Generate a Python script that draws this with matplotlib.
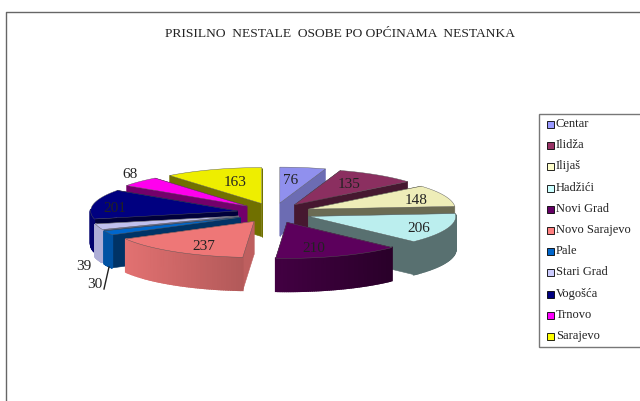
import numpy as np
import matplotlib
matplotlib.use("Agg")
import matplotlib.pyplot as plt
from matplotlib.colors import to_rgb
from matplotlib.patches import Polygon, Rectangle

categories = ["Centar", "Ilidža", "Ilijaš", "Hadžići", "Novi Grad", "Novo Sarajevo",
              "Pale", "Stari Grad", "Vogošća", "Trnovo", "Sarajevo"]
values = [76, 135, 148, 206, 210, 237, 30, 39, 201, 68, 163]
colors = ["#9090EE", "#8B2F60", "#EEEDB8", "#BBEEEE", "#5C005C", "#EE7777",
          "#0066CC", "#C0C0EE", "#000080", "#FF00EE", "#EEEE00"]
legend_colors = ["#9999FF", "#993366", "#FFFFCC", "#CCFFFF", "#660066", "#FF8080",
                 "#0066CC", "#CCCCFF", "#000080", "#FF00FF", "#FFFF00"]
# wall brightness left to right along the outer side of each slice
wall_shades = [(.75, .75), (.5, .5), (.5, .5), (.47, .47), (.72, .45), (.95, .75),
               (.8, .8), (.9, .9), (.85, .85), (.5, .5), (.5, .5)]
# brightness of the two cut faces
cut_shades = [.75, .5, .45, .47, .6, .8, .5, .55, .45, .45, .47]
label_pos = [(291, 181), (349, 185), (416, 201), (419, 229), (314, 249), (204, 247),
             (95, 285), (84, 267), (115, 208), (130, 174), (235, 182)]

# pie geometry in pixels
cx, cy = 274, 213
rx, ry = 147, 36
ex, ey = 37, 10
depth = 33


def shade(color, k):
    return tuple(c * k for c in to_rgb(color))


fig = plt.figure(figsize=(6.4, 4.01), dpi=100)
plt.rcParams["font.family"] = ["Liberation Serif", "DejaVu Serif"]
ax = fig.add_axes([0, 0, 1, 1])
ax.set_xlim(0, 640)
ax.set_ylim(401, 0)
ax.axis("off")

# outer chart frame
ax.plot([5.5, 5.5, 640], [401, 11.5, 11.5], color="#666666", lw=1)
ax.text(340, 34, "PRISILNO  NESTALE  OSOBE PO OPĆINAMA  NESTANKA", ha="center", va="center",
        fontsize=9.7, color="#222222")

edges = np.cumsum([0] + values) / sum(values) * 2 * np.pi
slices = []
for i in range(len(values)):
    a0, a1 = edges[i], edges[i + 1]
    mid = (a0 + a1) / 2
    ax0 = cx + ex * np.sin(mid)
    ay0 = cy - ey * np.cos(mid)
    slices.append((ay0, i, a0, a1, ax0))

# back slices first so that the front ones cover them
for ay0, i, a0, a1, ax0 in sorted(slices):
    t = np.linspace(a0, a1, 60)
    xs = ax0 + rx * np.sin(t)
    ys = ay0 - ry * np.cos(t)
    side = shade(colors[i], cut_shades[i])
    z = 2 + ay0 / 1000

    # the two cut faces
    for j in (0, -1):
        ax.add_patch(Polygon([(ax0, ay0), (xs[j], ys[j]), (xs[j], ys[j] + depth), (ax0, ay0 + depth)],
                             fc=side, ec=side, lw=.4, zorder=z))
    # outer wall, drawn in strips for the shading
    for j in range(len(t) - 1):
        if np.cos((t[j] + t[j + 1]) / 2) < 0.05:
            f = (xs[j] - xs.min()) / max(xs.max() - xs.min(), 1)
            k = wall_shades[i][0] + (wall_shades[i][1] - wall_shades[i][0]) * f
            c = shade(colors[i], k)
            ax.add_patch(Polygon([(xs[j], ys[j]), (xs[j + 1], ys[j + 1]),
                                  (xs[j + 1], ys[j + 1] + depth), (xs[j], ys[j] + depth)],
                                 fc=c, ec=c, lw=1.2, zorder=z))
    # top face
    ax.add_patch(Polygon(np.column_stack([np.r_[ax0, xs], np.r_[ay0, ys]]), fc=colors[i],
                         ec="#555555", lw=.3, zorder=z))

for v, (lx, ly) in zip(values, label_pos):
    ax.text(lx, ly, str(v), ha="center", va="center", fontsize=11, color="#222222", zorder=5)
ax.plot([109, 104], [267, 289], color="#222222", lw=1, zorder=5)

# legend box
ax.add_patch(Rectangle((538.5, 113.5), 110, 233, fc="white", ec="#777777", lw=1, zorder=3))
for i, name in enumerate(categories):
    y = 124 + i * 21.2
    ax.add_patch(Rectangle((547, y - 3), 7, 7, fc=legend_colors[i], ec="black", lw=.6, zorder=4))
    ax.text(556, y, name, ha="left", va="center", fontsize=9, color="#222222", zorder=4)

fig.savefig("out.png", dpi=100)
